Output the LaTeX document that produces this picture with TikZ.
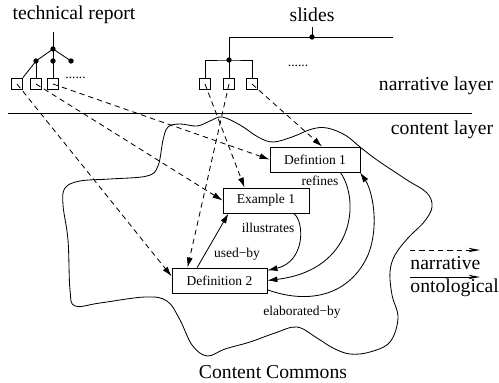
\documentclass[tikz,border=0pt]{standalone}
\usepackage{fontspec}
\setmainfont{Liberation Serif}
\usetikzlibrary{arrows.meta}
\begin{document}
\begin{tikzpicture}[
    x=0.6pt, y=-0.6pt, line width=0.5pt,
    concept/.style={rectangle, draw, minimum height=15pt, inner sep=0pt, font=\fontsize{8.1}{9}\selectfont},
    part/.style={rectangle, draw, minimum width=6.5pt, minimum height=7pt, inner sep=0pt},
    dot/.style={circle, fill, inner sep=0pt, minimum size=3.2pt},
    title/.style={inner sep=0pt, font=\fontsize{11.8}{14}\selectfont},
    rel/.style={inner sep=0pt, font=\fontsize{8.1}{9}\selectfont},
    onto/.style={-{Latex[length=6pt,width=3.6pt]}},
    narr/.style={-{Latex[length=6pt,width=3.6pt]}, dash pattern=on 3.2pt off 2.4pt},
    legend/.style={-{Stealth[length=7pt,width=2.6pt]}}
]
    \useasboundingbox (0,0) rectangle (499,383);

    \node[title] (techrep) at (74,15) {technical report};
    \node[title] (slides) at (312,15) {slides};
    \node[title] (narlayer) at (436,86) {narrative layer};
    \node[title] (conlayer) at (442,130) {content layer};
    \node[title] (commons) at (273,372) {Content Commons};

    \coordinate (trtop) at (53,32);
    \node[dot] (tr0) at (53,49) {};
    \node[dot] (tr1) at (36,61) {};
    \node[dot] (tr2) at (53,61) {};
    \node[dot] (tr3) at (71,61) {};
    \node[part] (b1) at (17,84) {};
    \node[part] (b2) at (36,84) {};
    \node[part] (b3) at (53,84) {};
    \node[rel] (trmore) at (75.5,78) {......};

    \coordinate (sltop) at (312,27);
    \node[dot] (sl0) at (312,37) {};
    \coordinate (slleft) at (229,37);
    \coordinate (slright) at (393,37);
    \node[dot] (sl1) at (229,60) {};
    \node[part] (s1) at (205,84) {};
    \node[part] (s2) at (229,84) {};
    \node[part] (s3) at (252,84) {};
    \node[rel] (slmore) at (298,65.5) {......};

    \coordinate (layl) at (8,113);
    \coordinate (layr) at (472,113);

    \draw plot[smooth cycle, tension=0.6] coordinates {
        (222,117) (240,125) (258,137) (273,142) (292,137) (312,129) (327,128)
        (345,135) (360,147) (377,160) (407,180) (427,193) (432,207) (424,222)
        (408,238) (395,255) (390,272) (392,295) (398,318) (390,342) (370,352)
        (350,354) (333,348) (317,338) (297,327) (275,333) (250,342) (225,349)
        (207,356) (192,345) (180,320) (167,301) (145,297) (100,303) (75,306)
        (70,290) (68,240) (63,205) (65,188) (80,181) (110,179) (147,176)
        (158,166) (163,140) (168,127) (180,124) (197,126) (210,121)};

    \node[concept, minimum width=54pt] (def1) at (315,159.5) {Defintion 1};
    \node[concept, minimum width=51.6pt] (ex1) at (266,200.5) {Example 1};
    \node[concept, minimum width=57pt] (def2) at (219.5,280.5) {Definition 2};

    \node[rel] (refl) at (320,181) {refines};
    \node[rel] (illl) at (268,228) {illustrates};
    \node[rel] (usel) at (237,254) {used−by};
    \node[rel] (elal) at (302,312) {elaborated−by};

    \draw (trtop) -- (tr0.center);
    \draw (tr0.center) -- (tr1.center);
    \draw (tr0.center) -- (tr2.center);
    \draw (tr0.center) -- (tr3.center);
    \draw (tr1.center) -- (b1.north east);
    \draw (tr1.center) -- (b2.north);
    \draw (tr2.center) -- (b3.north);

    \draw (sltop) -- (sl0.center);
    \draw (slleft) -- (slright);
    \draw (slleft) -- (sl1.center);
    \draw (s1.north) |- (sl1.center) -| (s3.north);
    \draw (sl1.center) -- (s2.north);

    \draw (layl) -- (layr);

    \draw[narr] (b1.center) -- (def2.175);
    \draw[narr] (b2.center) -- (ex1.west);
    \draw[narr] (b3.center) -- (def1.west);
    \draw[narr] (s1.center) -- (ex1.149);
    \draw[narr] (s2.center) -- (def2.158);
    \draw[narr] (s3.center) -- (def1.61);

    \draw[onto] (def2.150) -- (ex1.199);
    \draw[onto] (ex1.-25) .. controls (305,222) and (305,262) .. (def2.12);
    \draw[onto] (def1.-27) .. controls (360,200) and (355,270) .. (def2.east);
    \draw[onto] (def2.-11) .. controls (310,305) and (350,295) .. (368,255)
        .. controls (380,225) and (372,190) .. (def1.-16.5);

    \coordinate (narrs) at (410,250);
    \coordinate (narre) at (480,250);
    \draw[legend, dash pattern=on 3.2pt off 2.4pt] (narrs) -- (narre);
    \node[title, anchor=west] (narrtxt) at (410,263) {narrative};
    \coordinate (ontos) at (410,277);
    \coordinate (ontoe) at (480,277);
    \draw[legend] (ontos) -- (ontoe);
    \node[title, anchor=west] (ontotxt) at (410,288) {ontological};
\end{tikzpicture}
\end{document}
